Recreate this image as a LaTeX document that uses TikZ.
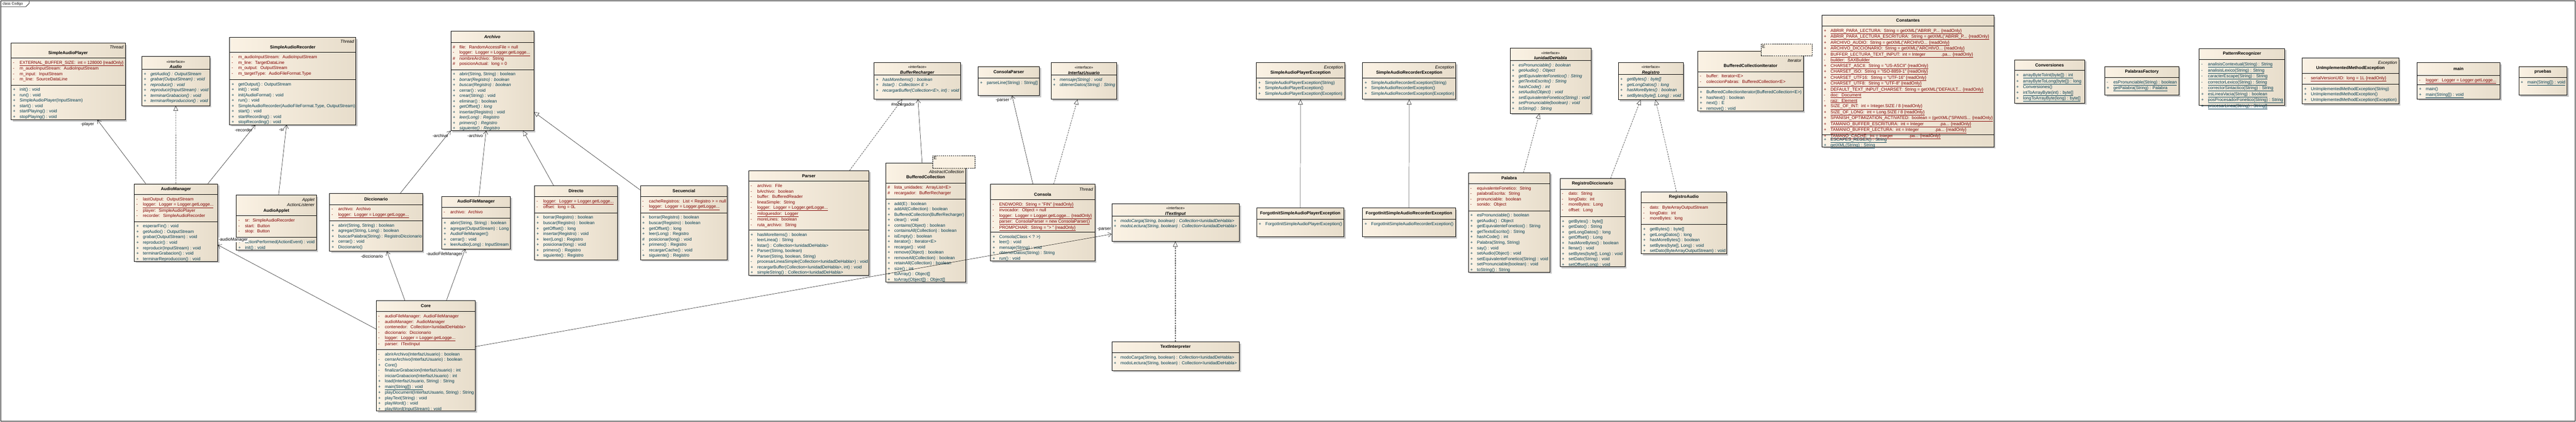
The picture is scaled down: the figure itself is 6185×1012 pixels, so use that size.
\documentclass[tikz,border=0pt]{standalone}
\usepackage{fontspec}
\setmainfont{Liberation Sans}
\usetikzlibrary{arrows.meta,shadows}

\definecolor{boxleft}{RGB}{251,242,228}
\definecolor{boxright}{RGB}{231,221,203}
\definecolor{attrred}{RGB}{128,0,0}
\definecolor{methteal}{RGB}{0,58,80}

\newcommand{\row}[2]{\strut\makebox[16pt][l]{#1}#2}
\newcommand{\stat}[1]{\underline{#1}}
\newcommand{\stereo}[1]{{\raggedleft\textit{#1}\par}}
\newcommand{\intf}[1]{{\fontsize{9}{11}\selectfont\rule{0pt}{14pt}«interface»\par}\textbf{\textit{#1}}}

% id, top left, width, height, header height, attribute height, header, attributes, operations
\newcommand{\umlclass}[9]{%
  \pgfmathsetmacro{\headw}{#3-8}
  \node[classbox, minimum width=#3pt, minimum height=#4pt] (#1) at (#2) {};
  \node[headtext, text width=\headw pt] at ([yshift=-#5pt/2]#1.north) {#7};
  \ifdim #6pt>0pt
    \draw[sepline] ([yshift=-#5pt]#1.north west) -- ([yshift=-#5pt]#1.north east);
    \node[attrlist] at ([xshift=5pt, yshift=-#5pt-5.4pt]#1.north west) {#8};
  \fi
  \draw[sepline] ([yshift=-#5pt-#6pt]#1.north west) -- ([yshift=-#5pt-#6pt]#1.north east);
  \node[methlist] at ([xshift=5pt, yshift=-#5pt-#6pt-5.4pt]#1.north west) {#9};
}

\begin{document}
\begin{tikzpicture}[x=1pt, y=-1pt, >={Straight Barb[length=8pt,width=11pt]}]
    \tikzstyle{every node}=[font=\fontsize{10.4}{13}\selectfont]
    \tikzstyle{classbox}=[draw=black, line width=0.9pt, anchor=north west, inner sep=0pt, left color=boxleft, right color=boxright, drop shadow={shadow xshift=4pt, shadow yshift=-4pt, fill=black!22, opacity=1}]
    \tikzstyle{tmplbox}=[draw=black, line width=0.7pt, dash pattern=on 3pt off 2pt, fill=boxleft, anchor=north west, inner sep=0pt]
    \tikzstyle{headtext}=[inner sep=0pt, align=center]
    \tikzstyle{sepline}=[draw=black, line width=0.9pt]
    \tikzstyle{attrlist}=[anchor=north west, inner sep=0pt, align=left, text=attrred]
    \tikzstyle{methlist}=[anchor=north west, inner sep=0pt, align=left, text=methteal]
    \tikzstyle{assoc}=[->, line width=0.6pt]
    \tikzstyle{inherit}=[-{Triangle[open,fill=white,length=12pt,width=11pt]}, line width=0.6pt]
    \tikzstyle{realize}=[inherit, dash pattern=on 4pt off 2pt]
    \tikzstyle{rolelabel}=[inner sep=1pt]

    \useasboundingbox (0,0) rectangle (6185,1012);
    % frame
    \draw[line width=0.9pt] (2,2) rectangle (6183,1011);
    \draw[line width=0.8pt] (2,16) -- (62,16) -- (70,8) -- (70,2);
    \node[anchor=north west, inner sep=2pt, font=\fontsize{8.5}{10}\selectfont] (frametab) at (4,3) {class Codigo};

    % audio classes
    \umlclass{sap}{26,103}{274}{184}{36}{65}{\stereo{Thread}\textbf{SimpleAudioPlayer}}
    {\row{-}{\stat{EXTERNAL\_BUFFER\_SIZE:~ int = 128000 \{readOnly\}}}\\
     \row{-}{m\_audioInputStream:~ AudioInputStream}\\
     \row{-}{m\_input:~ InputStream}\\
     \row{-}{m\_line:~ SourceDataLine}}
    {\row{+}{init() : void}\\
     \row{+}{run() : void}\\
     \row{+}{SimpleAudioPlayer(InputStream)}\\
     \row{+}{start() : void}\\
     \row{+}{startPlaying() : void}\\
     \row{+}{stopPlaying() : void}}
    \umlclass{audio}{340,135}{163}{118}{31}{0}{\intf{Audio}}{}
    {\row{+}{\textit{getAudio() : OutputStream}}\\
     \row{+}{\textit{grabar(OutputStream) : void}}\\
     \row{+}{\textit{reproducir() : void}}\\
     \row{+}{\textit{reproducir(InputStream) : void}}\\
     \row{+}{\textit{terminarGrabacion() : void}}\\
     \row{+}{\textit{terminarReproduccion() : void}}}
    \umlclass{sar}{551,89}{303}{210}{37}{65}{\stereo{Thread}\textbf{SimpleAudioRecorder}}
    {\row{-}{m\_audioInputStream:~ AudioInputStream}\\
     \row{-}{m\_line:~ TargetDataLine}\\
     \row{-}{m\_output:~ OutputStream}\\
     \row{-}{m\_targetType:~ AudioFileFormat.Type}}
    {\row{+}{getOutput() : OutputStream}\\
     \row{+}{init() : void}\\
     \row{+}{init(AudioFormat) : void}\\
     \row{+}{run() : void}\\
     \row{+}{SimpleAudioRecorder(AudioFileFormat.Type, OutputStream)}\\
     \row{+}{start() : void}\\
     \row{+}{startRecording() : void}\\
     \row{+}{stopRecording() : void}}
    \umlclass{audiomgr}{322,441}{200}{186}{26}{65}{\textbf{AudioManager}}
    {\row{-}{lastOutput:~ OutputStream}\\
     \row{-}{\stat{logger:~ Logger = Logger.getLogge...}}\\
     \row{-}{player:~ SimpleAudioPlayer}\\
     \row{-}{recorder:~ SimpleAudioRecorder}}
    {\row{+}{esperarFin() : void}\\
     \row{+}{getAudio() : OutputStream}\\
     \row{+}{grabar(OutputStream) : void}\\
     \row{+}{reproducir() : void}\\
     \row{+}{reproducir(InputStream) : void}\\
     \row{+}{terminarGrabacion() : void}\\
     \row{+}{terminarReproduccion() : void}}
    \umlclass{applet}{567,468}{192}{132}{50}{52}{\stereo{Applet}\stereo{ActionListener}\textbf{AudioApplet}}
    {\row{-}{sr:~ SimpleAudioRecorder}\\
     \row{-}{start:~ Button}\\
     \row{-}{stop:~ Button}}
    {\row{+}{actionPerformed(ActionEvent) : void}\\
     \row{+}{init() : void}}

    % files
    \umlclass{archivo}{1082,74}{199}{239}{28}{65}{\textbf{\textit{Archivo}}}
    {\row{\#}{file:~ RandomAccessFile = null}\\
     \row{-}{\stat{logger:~ Logger = Logger.getLogge...}}\\
     \row{\#}{nombreArchivo:~ String}\\
     \row{\#}{posicionActual:~ long = 0}}
    {\row{+}{abrir(String, String) : boolean}\\
     \row{+}{\textit{borrar(Registro) : boolean}}\\
     \row{+}{\textit{buscar(Registro) : boolean}}\\
     \row{+}{cerrar() : void}\\
     \row{+}{crear(String) : void}\\
     \row{+}{eliminar() : boolean}\\
     \row{+}{\textit{getOffset() : long}}\\
     \row{+}{insertar(Registro) : void}\\
     \row{+}{\textit{leer(Long) : Registro}}\\
     \row{+}{\textit{primero() : Registro}}\\
     \row{+}{\textit{siguiente() : Registro}}}
    \umlclass{dicc}{791,464}{223}{139}{27}{39}{\textbf{Diccionario}}
    {\row{-}{archivo:~ Archivo}\\
     \row{-}{\stat{logger:~ Logger = Logger.getLogge...}}}
    {\row{+}{abrir(String, String) : boolean}\\
     \row{+}{agregar(String, Long) : boolean}\\
     \row{+}{buscarPalabra(String) : RegistroDiccionario}\\
     \row{+}{cerrar() : void}\\
     \row{+}{Diccionario()}}
    \umlclass{afm}{1060,471}{165}{126}{27}{26}{\textbf{AudioFileManager}}
    {\row{-}{archivo:~ Archivo}}
    {\row{+}{abrir(String, String) : boolean}\\
     \row{+}{agregar(OutputStream) : Long}\\
     \row{+}{AudioFileManager()}\\
     \row{+}{cerrar() : void}\\
     \row{+}{leerAudio(Long) : InputStream}}
    \umlclass{directo}{1283,445}{199}{178}{27}{39}{\textbf{Directo}}
    {\row{-}{\stat{logger:~ Logger = Logger.getLogge...}}\\
     \row{-}{offset:~ long = 0L}}
    {\row{+}{borrar(Registro) : boolean}\\
     \row{+}{buscar(Registro) : boolean}\\
     \row{+}{getOffset() : long}\\
     \row{+}{insertar(Registro) : void}\\
     \row{+}{leer(Long) : Registro}\\
     \row{+}{posicionar(long) : void}\\
     \row{+}{primero() : Registro}\\
     \row{+}{siguiente() : Registro}}
    \umlclass{secuencial}{1537,445}{209}{178}{27}{39}{\textbf{Secuencial}}
    {\row{-}{cacheRegistros:~ List < Registro > = null}\\
     \row{-}{\stat{logger:~ Logger = Logger.getLogge...}}}
    {\row{+}{borrar(Registro) : boolean}\\
     \row{+}{buscar(Registro) : boolean}\\
     \row{+}{getOffset() : long}\\
     \row{+}{leer(Long) : Registro}\\
     \row{\#}{posicionar(long) : void}\\
     \row{+}{primero() : Registro}\\
     \row{-}{recargarCache() : void}\\
     \row{+}{siguiente() : Registro}}
    \umlclass{core}{903,721}{238}{265}{27}{91}{\textbf{Core}}
    {\row{-}{audioFileManager:~ AudioFileManager}\\
     \row{-}{audioManager:~ AudioManager}\\
     \row{-}{contenedor:~ Collection<IunidadDeHabla>}\\
     \row{-}{diccionario:~ Diccionario}\\
     \row{-}{\stat{logger:~ Logger = Logger.getLogge...}}\\
     \row{-}{parser:~ ITextInput}}
    {\row{-}{abrirArchivo(InterfazUsuario) : boolean}\\
     \row{-}{cerrarArchivo(InterfazUsuario) : boolean}\\
     \row{+}{Core()}\\
     \row{-}{finalizarGrabacion(InterfazUsuario) : int}\\
     \row{-}{iniciarGrabacion(InterfazUsuario) : int}\\
     \row{+}{load(InterfazUsuario, String) : String}\\
     \row{+}{\stat{main(String[]) : void}}\\
     \row{+}{playDocument(InterfazUsuario, String) : String}\\
     \row{+}{playText(String) : void}\\
     \row{+}{playWord() : void}\\
     \row{+}{playWord(InputStream) : void}}

    % text input
    \umlclass{parser}{1797,409}{289}{251}{26}{117}{\textbf{Parser}}
    {\row{-}{archivo:~ File}\\
     \row{-}{bArchivo:~ boolean}\\
     \row{-}{buffer:~ BufferedReader}\\
     \row{-}{lineaSimple:~ String}\\
     \row{-}{\stat{logger:~ Logger = Logger.getLogge...}}\\
     \row{-}{\stat{miloguesdor:~ Logger}}\\
     \row{-}{moreLines:~ boolean}\\
     \row{-}{ruta\_archivo:~ String}}
    {\row{+}{hasMoreItems() : boolean}\\
     \row{-}{leerLinea() : String}\\
     \row{+}{listar() : Collection<IunidadDeHabla>}\\
     \row{+}{Parser(String, boolean)}\\
     \row{+}{Parser(String, boolean, String)}\\
     \row{-}{procesarLineaSimple(Collection<IunidadDeHabla>) : void}\\
     \row{+}{recargarBuffer(Collection<IunidadDeHabla>, int) : void}\\
     \row{+}{simpleString() : Collection<IunidadDeHabla>}}
    \umlclass{bufrech}{2098,150}{208}{88}{30}{0}{\intf{BufferRecharger}}{}
    {\row{+}{\textit{hasMoreItems() : boolean}}\\
     \row{+}{\textit{listar() : Collection< E >}}\\
     \row{+}{\textit{recargarBuffer(Collection<E>, int) : void}}}
    \umlclass{consparser}{2348,159}{147}{70}{28}{0}{\textbf{ConsolaParser}}{}
    {\row{+}{parseLine(String) : String[]}}
    \umlclass{iu}{2523,150}{158}{88}{30}{0}{\intf{InterfazUsuario}}{}
    {\row{+}{\textit{mensaje(String) : void}}\\
     \row{+}{\textit{obtenerDatos(String) : String}}}
    \umlclass{bufcol}{2126,391}{192}{286}{48}{39}{{\raggedleft\rule{0pt}{15pt}\textit{AbstractCollection}\par}\textbf{BufferedCollection}\hspace*{36pt}}
    {\row{\#}{lista\_unidades:~ ArrayList<E>}\\
     \row{\#}{recargador:~ BufferRecharger}}
    {\row{+}{add(E) : boolean}\\
     \row{+}{addAll(Collection) : boolean}\\
     \row{+}{BufferedCollection(BufferRecharger)}\\
     \row{+}{clear() : void}\\
     \row{+}{contains(Object) : boolean}\\
     \row{+}{containsAll(Collection) : boolean}\\
     \row{+}{isEmpty() : boolean}\\
     \row{+}{iterator() : Iterator<E>}\\
     \row{+}{recargar() : void}\\
     \row{+}{remove(Object) : boolean}\\
     \row{+}{removeAll(Collection) : boolean}\\
     \row{+}{retainAll(Collection) : boolean}\\
     \row{+}{size() : int}\\
     \row{+}{toArray() : Object[]}\\
     \row{+}{toArray(Object[]) : Object[]}}
    \node[tmplbox, minimum width=101pt, minimum height=30pt, label={[anchor=north west, inner sep=3pt]north west:E}] (bufcolE) at (2239,373) {};
    \umlclass{consola}{2378,442}{250}{184}{37}{78}{\stereo{Thread}\textbf{Consola}}
    {\row{-}{\stat{ENDWORD:~ String = "FIN" \{readOnly\}}}\\
     \row{-}{invocador:~ Object = null}\\
     \row{-}{\stat{logger:~ Logger = Logger.getLogge... \{readOnly\}}}\\
     \row{-}{\stat{parser:~ ConsolaParser = new ConsolaParser()}}\\
     \row{-}{\stat{PROMPCHAR:~ String = "> " \{readOnly\}}}}
    {\row{+}{Consola(Class < ? >)}\\
     \row{+}{leer() : void}\\
     \row{+}{mensaje(String) : void}\\
     \row{+}{obtenerDatos(String) : String}\\
     \row{+}{run() : void}}
    \umlclass{itext}{2669,489}{306}{90}{30}{0}{\intf{ITextInput}}{}
    {\row{+}{\textit{modoCarga(String, boolean) : Collection<IunidadDeHabla>}}\\
     \row{+}{\textit{modoLectura(String, boolean) : Collection<IunidadDeHabla>}}}
    \umlclass{textint}{2669,820}{306}{69}{27}{0}{\textbf{TextInterpreter}}{}
    {\row{+}{modoCarga(String, boolean) : Collection<IunidadDeHabla>}\\
     \row{+}{modoLectura(String, boolean) : Collection<IunidadDeHabla>}}

    % exceptions
    \umlclass{sape}{3016,150}{212}{88}{37}{0}{\stereo{Exception}\textbf{SimpleAudioPlayerException}}{}
    {\row{+}{SimpleAudioPlayerException(String)}\\
     \row{+}{SimpleAudioPlayerException()}\\
     \row{+}{SimpleAudioPlayerException(Exception)}}
    \umlclass{sare}{3271,150}{224}{88}{37}{0}{\stereo{Exception}\textbf{SimpleAudioRecorderException}}{}
    {\row{+}{SimpleAudioRecorderException(String)}\\
     \row{+}{SimpleAudioRecorderException()}\\
     \row{+}{SimpleAudioRecorderException(Exception)}}
    \umlclass{fisape}{3017,499}{209}{69}{27}{0}{\textbf{ForgotInitSimpleAudioPlayerException}}{}
    {\row{+}{ForgotInitSimpleAudioPlayerException()}}
    \umlclass{fisare}{3271,499}{223}{69}{27}{0}{\textbf{ForgotInitSimpleAudioRecorderException}}{}
    {\row{+}{ForgotInitSimpleAudioRecorderException()}}

    % speech units and records
    \umlclass{iunidad}{3625,115}{195}{157}{30}{0}{\intf{IunidadDeHabla}}{}
    {\row{+}{\textit{esPronunciable() : boolean}}\\
     \row{+}{\textit{getAudio() : Object}}\\
     \row{+}{\textit{getEquivalenteFonetico() : String}}\\
     \row{+}{\textit{getTextoEscrito() : String}}\\
     \row{+}{\textit{hashCode() : int}}\\
     \row{+}{\textit{setAudio(Object) : void}}\\
     \row{+}{\textit{setEquivalenteFonetico(String) : void}}\\
     \row{+}{\textit{setPronunciable(boolean) : void}}\\
     \row{+}{\textit{toString() : String}}}
    \umlclass{palabra}{3525,414}{196}{239}{27}{65}{\textbf{Palabra}}
    {\row{-}{equivalenteFonetico:~ String}\\
     \row{-}{palabraEscrita:~ String}\\
     \row{-}{pronunciable:~ boolean}\\
     \row{-}{sonido:~ Object}}
    {\row{+}{esPronunciable() : boolean}\\
     \row{+}{getAudio() : Object}\\
     \row{+}{getEquivalenteFonetico() : String}\\
     \row{+}{getTextoEscrito() : String}\\
     \row{+}{hashCode() : int}\\
     \row{+}{Palabra(String, String)}\\
     \row{+}{say() : void}\\
     \row{+}{setAudio(Object) : void}\\
     \row{+}{setEquivalenteFonetico(String) : void}\\
     \row{+}{setPronunciable(boolean) : void}\\
     \row{+}{toString() : String}}
    \umlclass{regdic}{3745,428}{156}{212}{26}{66}{\textbf{RegistroDiccionario}}
    {\row{-}{dato:~ String}\\
     \row{-}{longDato:~ int}\\
     \row{-}{moreBytes:~ Long}\\
     \row{-}{offset:~ Long}}
    {\row{+}{getBytes() : byte[]}\\
     \row{+}{getDato() : String}\\
     \row{+}{getLongDatos() : long}\\
     \row{+}{getOffset() : Long}\\
     \row{+}{hasMoreBytes() : boolean}\\
     \row{+}{llenar() : void}\\
     \row{+}{setBytes(byte[], Long) : void}\\
     \row{+}{setDato(String) : void}\\
     \row{+}{setOffset(Long) : void}}
    \umlclass{registro}{3885,150}{156}{89}{29}{0}{\intf{Registro}}{}
    {\row{+}{\textit{getBytes() : byte[]}}\\
     \row{+}{\textit{getLongDatos() : long}}\\
     \row{+}{\textit{hasMoreBytes() : boolean}}\\
     \row{+}{\textit{setBytes(byte[], Long) : void}}}
    \umlclass{regaudio}{3940,460}{205}{149}{27}{52}{\textbf{RegistroAudio}}
    {\row{-}{dato:~ ByteArrayOutputStream}\\
     \row{-}{longDato:~ int}\\
     \row{-}{moreBytes:~ long}}
    {\row{+}{getBytes() : byte[]}\\
     \row{+}{getLongDatos() : long}\\
     \row{+}{hasMoreBytes() : boolean}\\
     \row{+}{setBytes(byte[], Long) : void}\\
     \row{+}{setDato(ByteArrayOutputStream) : void}}
    \umlclass{bci}{4076,122}{253}{144}{50}{38}{{\raggedleft\rule{0pt}{16pt}\textit{Iterator}\par}\textbf{BufferedCollectionIterator}\hspace*{50pt}}
    {\row{-}{buffer:~ Iterator<E>}\\
     \row{-}{coleccionPabras:~ BufferedCollection<E>}}
    {\row{+}{BufferedCollectionIterator(BufferedCollection<E>)}\\
     \row{+}{hasNext() : boolean}\\
     \row{+}{next() : E}\\
     \row{+}{remove() : void}}
    \node[tmplbox, minimum width=123pt, minimum height=29pt, label={[anchor=north west, inner sep=3pt]north west:E}] (bciE) at (4228,105) {};

    % utilities
    \umlclass{constantes}{4374,36}{413}{316}{26}{261}{\textbf{Constantes}}
    {\row{+}{\stat{ABRIR\_PARA\_LECTURA:~ String = getXML("ABRIR\_P... \{readOnly\}}}\\
     \row{+}{\stat{ABRIR\_PARA\_LECTURA\_ESCRITURA:~ String = getXML("ABRIR\_P... \{readOnly\}}}\\
     \row{+}{\stat{ARCHIVO\_AUDIO:~ String = getXML("ARCHIVO... \{readOnly\}}}\\
     \row{+}{\stat{ARCHIVO\_DICCIONARIO:~ String = getXML("ARCHIVO... \{readOnly\}}}\\
     \row{+}{\stat{BUFFER\_LECTURA\_TEXT\_INPUT:~ int = Integer\hspace{38pt}.pa... \{readOnly\}}}\\
     \row{-}{\stat{builder:~ SAXBuilder}}\\
     \row{+}{\stat{CHARSET\_ASCII:~ String = "US-ASCII" \{readOnly\}}}\\
     \row{+}{\stat{CHARSET\_ISO:~ String = "ISO-8859-1" \{readOnly\}}}\\
     \row{+}{\stat{CHARSET\_UTF16:~ String = "UTF-16" \{readOnly\}}}\\
     \row{+}{\stat{CHARSET\_UTF8:~ String = "UTF-8" \{readOnly\}}}\\
     \row{+}{\stat{DEFAULT\_TEXT\_INPUT\_CHARSET:~ String = getXML("DEFAULT... \{readOnly\}}}\\
     \row{-}{\stat{doc:~ Document}}\\
     \row{-}{\stat{raiz:~ Element}}\\
     \row{+}{\stat{SIZE\_OF\_INT:~ int = Integer.SIZE / 8 \{readOnly\}}}\\
     \row{+}{\stat{SIZE\_OF\_LONG:~ int = Long.SIZE / 8 \{readOnly\}}}\\
     \row{+}{\stat{SPANISH\_OPTIMIZATION\_ACTIVATED:~ boolean = (getXML("SPANIS... \{readOnly\}}}\\
     \row{+}{\stat{TAMANIO\_BUFFER\_ESCRITURA:~ int = Integer\hspace{38pt}.pa... \{readOnly\}}}\\
     \row{+}{\stat{TAMANIO\_BUFFER\_LECTURA:~ int = Integer\hspace{38pt}.pa... \{readOnly\}}}\\
     \row{+}{\stat{TAMANO\_CACHE:~ int = Integer\hspace{38pt}.pa... \{readOnly\}}}}
    {\row{+}{\stat{ESCAPES\_REGEX() : String}}\\
     \row{+}{\stat{getXML(String) : String}}}
    \umlclass{conv}{4836,143}{169}{104}{26}{0}{\textbf{Conversiones}}{}
    {\row{+}{\stat{arrayByteToInt(byte[]) : int}}\\
     \row{+}{\stat{arrayByteToLong(byte[]) : long}}\\
     \row{+}{Conversiones()}\\
     \row{+}{\stat{intToArrayByte(int) : byte[]}}\\
     \row{+}{\stat{longToArrayByte(long) : byte[]}}}
    \umlclass{pf}{5053,159}{178}{69}{27}{0}{\textbf{PalabrasFactory}}{}
    {\row{-}{\stat{esPronunciable(String) : boolean}}\\
     \row{+}{\stat{getPalabra(String) : Palabra}}}
    \umlclass{pr}{5280,116}{205}{136}{27}{0}{\textbf{PatternRecognizer}}{}
    {\row{-}{\stat{analisisContextual(String) : String}}\\
     \row{-}{\stat{analisisLexico(String) : String}}\\
     \row{-}{\stat{caracterEscape(String) : String}}\\
     \row{-}{\stat{correctorLexico(String) : String}}\\
     \row{-}{\stat{correctorSintactico(String) : String}}\\
     \row{+}{\stat{esLineaVacia(String) : boolean}}\\
     \row{+}{\stat{posProcesadorFonetico(String) : String}}\\
     \row{+}{\stat{procesarLinea(String) : String[]}}}
    \umlclass{unimpl}{5527,139}{232}{110}{37}{26}{\stereo{Exception}\textbf{UnImplementedMethodException}}
    {\row{-}{\stat{serialVersionUID:~ long = 1L \{readOnly\}}}}
    {\row{+}{UnImplementedMethodException(String)}\\
     \row{+}{UnImplementedMethodException()}\\
     \row{+}{UnImplementedMethodException(Exception)}}
    \umlclass{mainc}{5803,150}{199}{87}{31}{22}{\textbf{main}}
    {\row{-}{\stat{logger:~ Logger = Logger.getLogge...}}}
    {\row{+}{main()}\\
     \row{+}{\stat{main(String[]) : void}}}
    \umlclass{pruebas}{6047,159}{116}{69}{27}{0}{\textbf{pruebas}}{}
    {\row{+}{\stat{main(String[]) : void}}}

    % associations
    \draw[assoc] ([xshift=28pt]audiomgr.north west) -- ([xshift=208pt]sap.south west);
    \draw[assoc] ([xshift=177pt]audiomgr.north west) -- ([xshift=62pt]sar.south west);
    \draw[assoc] ([xshift=102pt]applet.north west) -- ([xshift=137pt]sar.south west);
    \draw[assoc] ([xshift=170pt]dicc.north west) -- (archivo.south west);
    \draw[assoc] ([xshift=90pt]afm.north west) -- ([xshift=85pt]archivo.south west);
    \draw[assoc] ([xshift=69pt]core.north west) -- ([xshift=138pt]dicc.south west);
    \draw[assoc] ([xshift=169pt]core.north west) -- ([xshift=57pt]afm.south west);
    \draw[assoc] ([yshift=-69pt]core.north west) -- ([yshift=-147pt]audiomgr.north east);
    \draw[assoc] ([yshift=-111pt]core.north east) -- ([yshift=-73pt]itext.north west);
    \draw[assoc] ([xshift=88pt]bufcol.north west) -- ([xshift=106pt]bufrech.south west);
    \draw[assoc] ([xshift=102pt]consola.north west) -- ([xshift=82pt]consparser.south west);

    % generalizations and realizations
    \draw[realize] (audiomgr.north) -- (audio.south);
    \draw[inherit] ([xshift=46pt]directo.north west) -- ([xshift=174pt]archivo.south west);
    \draw[inherit] ([yshift=-11pt]secuencial.north west) -- ([yshift=45pt]archivo.south east);
    \draw[realize] ([xshift=243pt]parser.north west) -- ([xshift=68pt]bufrech.south west);
    \draw[realize] ([xshift=152pt]consola.north west) -- ([xshift=64pt]iu.south west);
    \draw[realize] ([xshift=153pt]textint.north west) -- ([xshift=153pt]itext.south west);
    \draw[inherit] (fisape.north) -- (sape.south);
    \draw[inherit] (fisare.north) -- (sare.south);
    \draw[realize] ([xshift=133pt]palabra.north west) -- ([xshift=71pt]iunidad.south west);
    \draw[realize] ([xshift=122pt]regdic.north west) -- ([xshift=54pt]registro.south west);
    \draw[realize] ([xshift=85pt]regaudio.north west) -- ([xshift=90pt]registro.south west);

    % role names
    \node[rolelabel] (lplayer) at (210,299) {-player};
    \node[rolelabel] (lrecorder) at (585,312) {-recorder};
    \node[rolelabel] (lsr) at (676,312) {-sr};
    \node[rolelabel] (larchivoa) at (1057,326) {-archivo};
    \node[rolelabel] (larchivob) at (1141,326) {-archivo};
    \node[rolelabel] (ldicc) at (893,616) {-diccionario};
    \node[rolelabel] (lafm) at (1067,610) {-audioFileManager};
    \node[rolelabel, fill=white] (laudiomgr) at (560,576) {-audioManager};
    \node[rolelabel] (lparsera) at (2651,550) {-parser};
    \node[rolelabel] (lrecargador) at (2168,251) {\#recargador};
    \node[rolelabel] (lparserb) at (2407,241) {-parser};
\end{tikzpicture}
\end{document}
